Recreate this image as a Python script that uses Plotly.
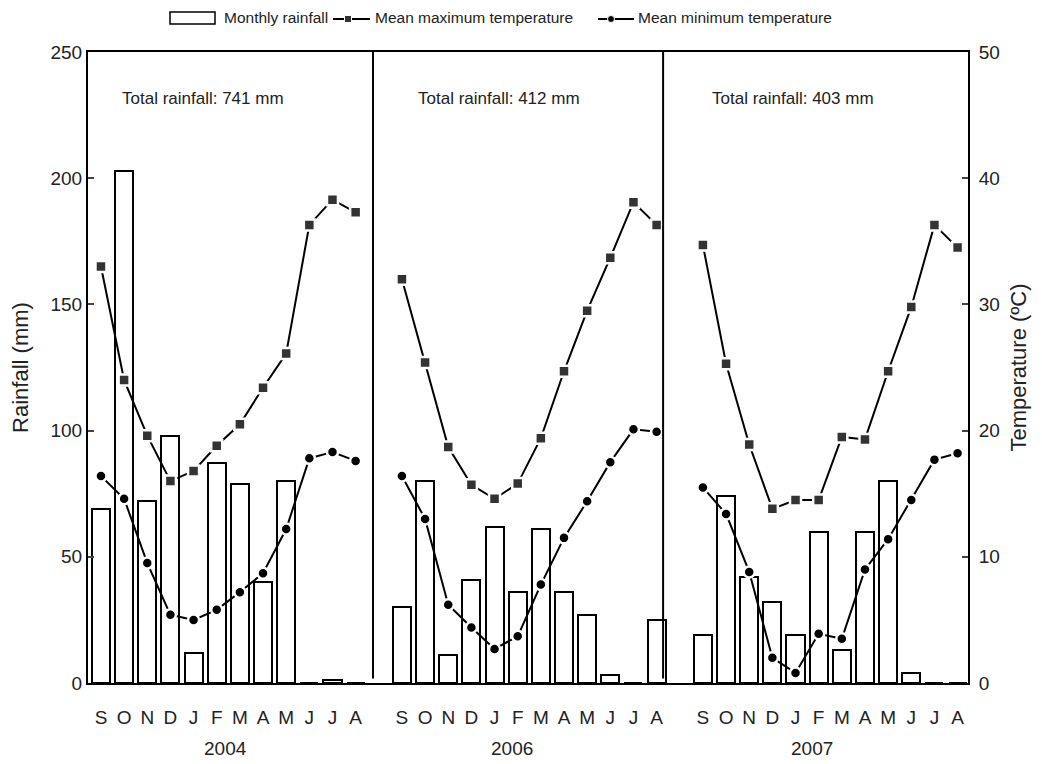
import plotly.graph_objects as go

months = ["S", "O", "N", "D", "J", "F", "M", "A", "M", "J", "J", "A"]
years = ["2004", "2006", "2007"]
totals = ["741", "412", "403"]

rain_2004 = [69, 203, 72, 98, 12, 87, 79, 40, 80, 0, 1, 0]
rain_2006 = [30, 80, 11, 41, 62, 36, 61, 36, 27, 3, 0, 25]
rain_2007 = [19, 74, 42, 32, 19, 60, 13, 60, 80, 4, 0, 0]

tmax_2004 = [33.0, 24.0, 19.6, 16.0, 16.8, 18.8, 20.5, 23.4, 26.1, 36.3, 38.3, 37.3]
tmax_2006 = [32.0, 25.4, 18.7, 15.7, 14.6, 15.8, 19.4, 24.7, 29.5, 33.7, 38.1, 36.3]
tmax_2007 = [34.7, 25.3, 18.9, 13.8, 14.5, 14.5, 19.5, 19.3, 24.7, 29.8, 36.3, 34.5]

tmin_2004 = [16.4, 14.6, 9.5, 5.4, 5.0, 5.8, 7.2, 8.7, 12.2, 17.8, 18.3, 17.6]
tmin_2006 = [16.4, 13.0, 6.2, 4.4, 2.7, 3.7, 7.8, 11.5, 14.4, 17.5, 20.1, 19.9]
tmin_2007 = [15.5, 13.4, 8.8, 2.0, 0.8, 3.9, 3.5, 9.0, 11.4, 14.5, 17.7, 18.2]

rain = [rain_2004, rain_2006, rain_2007]
tmax = [tmax_2004, tmax_2006, tmax_2007]
tmin = [tmin_2004, tmin_2006, tmin_2007]

FONT = "Liberation Sans, Arial, sans-serif"
TXT = "#222222"

# page body adds ~8px offset; plot area in figure pixels
OFF = 8
L, R, T, B = 88 - OFF, 968 - OFF, 52 - OFF, 683 - OFF
def px(xp):
    return (xp - OFF - L) / (R - L)
def py(yp):
    return (B - (yp - OFF)) / (B - T)

# category positions: 12 months per panel, one empty slot between panels
step = len(months) + 1
xpos = [[p * step + i for i in range(len(months))] for p in range(3)]

def joined(series):
    xs, ys = [], []
    for p in range(3):
        xs += xpos[p] + [None]
        ys += series[p] + [None]
    return xs, ys

fig = go.Figure()

bx = sum(xpos, [])
by = sum(rain, [])
fig.add_trace(go.Bar(x=bx, y=by, width=0.78, name="Monthly rainfall", showlegend=False,
                     marker=dict(color="white", line=dict(color="black", width=2)),
                     yaxis="y"))

x1, y1 = joined(tmax)
fig.add_trace(go.Scatter(x=x1, y=y1, mode="lines+markers", name="Mean maximum temperature",
                         showlegend=False, line=dict(color="black", width=2),
                         marker=dict(symbol="square", size=11, color="#333333",
                                     line=dict(color="white", width=2.5)),
                         yaxis="y2", connectgaps=False))
x2, y2 = joined(tmin)
fig.add_trace(go.Scatter(x=x2, y=y2, mode="lines+markers", name="Mean minimum temperature",
                         showlegend=False, line=dict(color="black", width=2),
                         marker=dict(symbol="circle", size=11, color="black",
                                     line=dict(color="white", width=2.5)),
                         yaxis="y2", connectgaps=False))

shapes = []
for xv in [11.75, 24.28]:
    shapes.append(dict(type="line", xref="x", yref="paper", x0=xv, x1=xv, y0=0.007, y1=1,
                       line=dict(color="black", width=2)))

# legend drawn by hand (wide box symbol as in the original)
ly = 18
shapes.append(dict(type="rect", xref="paper", yref="paper", x0=px(170), x1=px(215),
                   y0=py(ly + 6), y1=py(ly - 6), line=dict(color="black", width=1.5),
                   fillcolor="white"))
for (a, b, m, kind) in [(333, 370, 348, "square"), (598, 634, 611, "circle")]:
    shapes.append(dict(type="line", xref="paper", yref="paper", x0=px(a), x1=px(b),
                       y0=py(ly + 1), y1=py(ly + 1), line=dict(color="black", width=2)))
    shapes.append(dict(type="rect" if kind == "square" else "circle", xref="paper",
                       yref="paper", x0=px(m - 3.5), x1=px(m + 3.5), y0=py(ly + 4.5),
                       y1=py(ly - 2.5), line=dict(color="white", width=1),
                       fillcolor="#333333" if kind == "square" else "black"))

annotations = []
for xt, t in zip([222, 373, 636], ["Monthly rainfall", "Mean maximum temperature",
                                     "Mean minimum temperature"]):
    annotations.append(dict(x=px(xt), y=py(ly), xref="paper", yref="paper", xanchor="left",
                            yanchor="middle", text=t, showarrow=False,
                            font=dict(family=FONT, size=15.5, color=TXT)))

total_x = [4.4, 17.2, 29.9]
year_x = [5.4, 17.75, 30.7]
for p in range(3):
    annotations.append(dict(x=total_x[p], y=1.0, xref="x", yref="paper", yanchor="middle",
                            yshift=-46, text=f"Total rainfall: {totals[p]} mm", showarrow=False,
                            font=dict(family=FONT, size=17, color=TXT)))
    annotations.append(dict(x=year_x[p], y=0, xref="x", yref="paper", yanchor="middle",
                            yshift=-65, text=years[p], showarrow=False,
                            font=dict(family=FONT, size=19, color=TXT)))

fig.update_layout(
    width=1042, height=764,
    margin=dict(l=L, r=1042 - R, t=T, b=764 - B),
    paper_bgcolor="white", plot_bgcolor="white",
    font=dict(family=FONT, size=18, color=TXT),
    showlegend=False,
    bargap=0,
    xaxis=dict(range=[-0.56, 37.45], tickvals=bx, ticktext=months * 3, ticks="",
               showline=True, mirror=True, linecolor="black", linewidth=2,
               showgrid=False, zeroline=False, tickfont=dict(size=19), automargin=False,
               ticklabelstandoff=16),
    yaxis=dict(range=[0, 250], tickvals=[0, 50, 100, 150, 200, 250], ticks="inside",
               ticklen=6, tickwidth=1.5, showline=True, linecolor="black", linewidth=2,
               showgrid=False, zeroline=False, automargin=False,
               title=dict(text="Rainfall (mm)", font=dict(size=22), standoff=18),
               tickfont=dict(size=19)),
    yaxis2=dict(range=[0, 50], tickvals=[0, 10, 20, 30, 40, 50], overlaying="y", side="right",
                ticks="inside", ticklen=6, tickwidth=1.5, showline=True, linecolor="black",
                linewidth=2, showgrid=False, zeroline=False, automargin=False,
                ticklabelstandoff=5,
                title=dict(text="Temperature (ºC)", font=dict(size=22), standoff=12),
                tickfont=dict(size=19)),
    shapes=shapes, annotations=annotations,
)

fig.write_html("out.html")
